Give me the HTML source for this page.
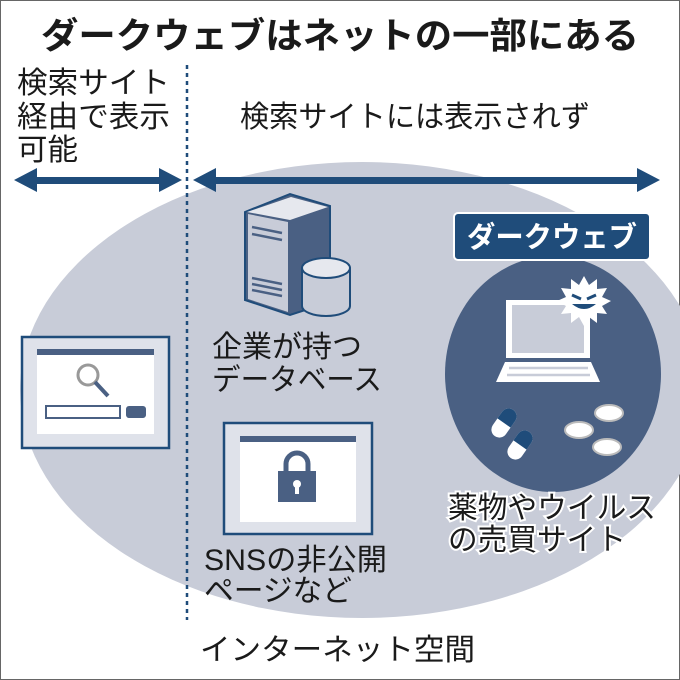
<!DOCTYPE html>
<html><head><meta charset="utf-8"><style>
body{margin:0;width:680px;height:680px;background:#fff;overflow:hidden}
svg{display:block}
text{font-family:"Liberation Sans","Noto Sans CJK JP",sans-serif;fill:#1a1a1a}
</style></head><body>
<svg width="680" height="680" viewBox="0 0 680 680">
<rect x="0.5" y="0.5" width="679" height="679" fill="#fff" stroke="#666"/>
<ellipse cx="362" cy="390" rx="342" ry="228" fill="#c8ccd8"/>
<ellipse cx="553" cy="374" rx="108" ry="118" fill="#4a6083"/>
<text x="340" y="48" font-size="36" font-weight="bold" text-anchor="middle" textLength="598" lengthAdjust="spacingAndGlyphs">ダークウェブはネットの一部にある</text>
<text x="17" y="93" font-size="30" textLength="153" lengthAdjust="spacingAndGlyphs">検索サイト</text>
<text x="17" y="127" font-size="30" textLength="153" lengthAdjust="spacingAndGlyphs">経由で表示</text>
<text x="17" y="160" font-size="30" textLength="61" lengthAdjust="spacingAndGlyphs">可能</text>
<text x="240" y="127" font-size="30" textLength="350" lengthAdjust="spacingAndGlyphs">検索サイトには表示されず</text>
<line x1="187" y1="65" x2="187" y2="620" stroke="#1f4c7a" stroke-width="2.5" stroke-dasharray="4 4"/>
<g fill="#1f4c7a">
<rect x="28" y="177" width="142" height="7"/>
<polygon points="14,180 37,168 37,192"/><polygon points="182,180 159,168 159,192"/>
<rect x="205" y="177" width="440" height="7"/>
<polygon points="193,180 216,168 216,192"/><polygon points="660,180 637,168 637,192"/>
</g>
<!-- search browser -->
<rect x="22" y="337" width="147" height="111" fill="#dfe2ea" stroke="#1f4c7a" stroke-width="2.5"/>
<rect x="37" y="349" width="117" height="85" fill="#fff"/>
<rect x="37" y="349" width="117" height="6" fill="#4a6083"/>
<circle cx="88" cy="375" r="10" fill="none" stroke="#999" stroke-width="3"/>
<line x1="95" y1="382" x2="108" y2="396" stroke="#4a6083" stroke-width="4"/>
<rect x="46" y="406" width="74" height="12" fill="#fff" stroke="#4a6083" stroke-width="2"/>
<rect x="126" y="406" width="20" height="12" rx="3" fill="#4a6083"/>
<!-- server -->
<polygon points="245,212 290,194 330,206 330,302 290,315 245,300" fill="#4a6083" stroke="#1f4c7a" stroke-width="2"/>
<polygon points="247,212 291,197 328,207 290,220" fill="#e6e8ee"/>
<polygon points="248,214 288,222 288,312 248,299" fill="#c8ccd8"/>
<g stroke="#4a6083" stroke-width="2.5"><line x1="252" y1="227" x2="282" y2="233"/><line x1="252" y1="234" x2="282" y2="240"/><line x1="252" y1="278" x2="282" y2="284"/><line x1="252" y1="284" x2="282" y2="290"/><line x1="252" y1="290" x2="282" y2="296"/></g>
<path d="M302,268 v38 a24,10 0 0 0 48,0 v-38" fill="#c8ccd8" stroke="#1f4c7a" stroke-width="2"/>
<ellipse cx="326" cy="268" rx="24" ry="10" fill="#e6e8ee" stroke="#1f4c7a" stroke-width="2"/>
<text x="212" y="357" font-size="30" textLength="150" lengthAdjust="spacingAndGlyphs">企業が持つ</text>
<text x="212" y="390" font-size="30" textLength="170" lengthAdjust="spacingAndGlyphs">データベース</text>
<!-- SNS browser -->
<rect x="224" y="423" width="148" height="111" fill="#dfe2ea" stroke="#1f4c7a" stroke-width="2.5"/>
<rect x="240" y="436" width="116" height="86" fill="#fff"/>
<rect x="240" y="436" width="116" height="6" fill="#4a6083"/>
<path d="M286,472 v-8 a11,11 0 0 1 22,0 v8" fill="none" stroke="#4a6083" stroke-width="5"/>
<rect x="278" y="471" width="38" height="31" fill="#4a6083"/>
<circle cx="297" cy="484" r="4" fill="#fff"/><rect x="295" y="485" width="4" height="9" fill="#fff"/>
<text x="204" y="570" font-size="30" textLength="183" lengthAdjust="spacingAndGlyphs">SNSの非公開</text>
<text x="204" y="601" font-size="30" textLength="148" lengthAdjust="spacingAndGlyphs">ページなど</text>
<!-- dark web -->
<rect x="454" y="213" width="196" height="47" rx="4" fill="#1f4c7a" stroke="#fff" stroke-width="2"/>
<text x="552" y="247" font-size="29" font-weight="bold" text-anchor="middle" style="fill:#fff" textLength="170" lengthAdjust="spacingAndGlyphs">ダークウェブ</text>
<rect x="506" y="300" width="84" height="58" fill="#fff"/>
<rect x="512" y="305" width="72" height="48" fill="#c8ccd8"/>
<polygon points="496,382 600,382 591,362 505,362" fill="#fff"/>
<g stroke="#c8ccd8" stroke-width="2.5"><line x1="509" y1="368" x2="588" y2="368"/><line x1="507" y1="375" x2="590" y2="375"/></g>
<polygon points="584,276 589,285 597,279 597,289 607,288 602,297 611,301 602,306 607,314 597,313 597,323 589,317 584,326 579,317 571,323 571,313 561,314 566,306 557,301 566,297 561,288 571,289 571,279 579,285" fill="#fff"/>
<path d="M572,295 l9,4 M596,295 l-9,4" stroke="#1f4c7a" stroke-width="3"/>
<path d="M572,304 q12,10 24,0 z" fill="#1f4c7a"/>
<g transform="rotate(35 504 423)"><rect x="496" y="407" width="16" height="32" rx="8" fill="#fff"/><path d="M496,423 v-8 a8,8 0 0 1 16,0 v8 z" fill="#1f4c7a"/></g>
<g transform="rotate(35 520 445)"><rect x="512" y="429" width="16" height="32" rx="8" fill="#fff"/><path d="M512,445 v-8 a8,8 0 0 1 16,0 v8 z" fill="#1f4c7a"/></g>
<g fill="#fff" stroke="#bbb" stroke-width="2">
<ellipse cx="609" cy="413" rx="14" ry="8"/><ellipse cx="579" cy="430" rx="14" ry="8"/><ellipse cx="607" cy="447" rx="14" ry="8"/></g>
<text x="448" y="518" font-size="30" stroke="#fff" stroke-width="4" paint-order="stroke" textLength="208" lengthAdjust="spacingAndGlyphs">薬物やウイルス</text>
<text x="448" y="550" font-size="30" stroke="#fff" stroke-width="4" paint-order="stroke" textLength="178" lengthAdjust="spacingAndGlyphs">の売買サイト</text>
<text x="200" y="660" font-size="30" textLength="275" lengthAdjust="spacingAndGlyphs">インターネット空間</text>
</svg>
</body></html>
